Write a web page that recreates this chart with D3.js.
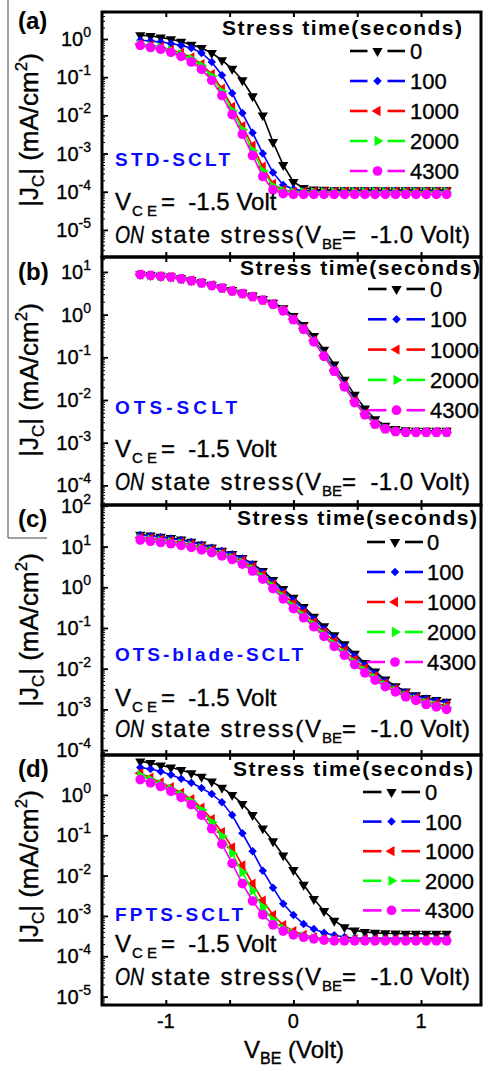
<!DOCTYPE html>
<html>
<head>
<meta charset="utf-8">
<script src="https://cdn.jsdelivr.net/npm/d3@7"></script>
<style>
  body { margin: 0; background: #fff; }
  svg { display: block; font-family: "Liberation Sans", Arial, sans-serif; }
  .heavy { stroke: currentColor; stroke-width: 0.35px; }
</style>
</head>
<body>
<svg id="chart" width="483" height="1066"></svg>
<script>
// V_BE sweep (Volt), same for every panel
const vbe = [-1.2, -1.12, -1.04, -0.96, -0.88, -0.8, -0.72, -0.64, -0.56, -0.48, -0.4, -0.32, -0.24, -0.16, -0.08, 0,
  0.08, 0.16, 0.24, 0.32, 0.4, 0.48, 0.56, 0.64, 0.72, 0.8, 0.88, 0.96, 1.04, 1.12, 1.2];

const stressTimes = ["0", "100", "1000", "2000", "4300"];
const seriesColors = ["#000000", "#0000ff", "#ff0000", "#00ff00", "#ff00ff"];

// (a) STD-SCLT, |Jc| in mA/cm2
const stdJ0 = [1.26, 1.2, 1.1, 0.98, 0.85, 0.71, 0.58, 0.43, 0.28, 0.166, 0.083, 0.0316, 0.01, 2.0e-3, 5.0e-4, 1.8e-4,
  1.26e-4, 1.15e-4, 1.12e-4, 1.1e-4, 1.1e-4, 1.09e-4, 1.1e-4, 1.1e-4, 1.09e-4, 1.1e-4, 1.1e-4, 1.1e-4, 1.09e-4, 1.1e-4, 1.1e-4];
const stdJ100 = [0.93, 0.89, 0.83, 0.76, 0.68, 0.58, 0.43, 0.25, 0.112, 0.038, 0.0115, 3.5e-3, 1.0e-3, 3.2e-4, 1.5e-4, 1.17e-4,
  1.05e-4, 1.05e-4, 1.05e-4, 1.04e-4, 1.05e-4, 1.05e-4, 1.05e-4, 1.04e-4, 1.05e-4, 1.05e-4, 1.05e-4, 1.04e-4, 1.05e-4, 1.05e-4, 1.05e-4];
const stdJ1000 = [0.74, 0.68, 0.62, 0.52, 0.43, 0.33, 0.22, 0.12, 0.05, 0.0166, 5.2e-3, 1.6e-3, 4.5e-4, 1.6e-4, 1.12e-4,
  1.0e-4, 1.0e-4, 1.0e-4, 1.0e-4, 1.0e-4, 1.0e-4, 1.0e-4, 1.0e-4, 1.0e-4, 1.0e-4, 1.0e-4, 1.0e-4, 1.0e-4, 1.0e-4, 1.0e-4, 1.0e-4];
const stdJ2000 = [0.72, 0.66, 0.6, 0.5, 0.4, 0.3, 0.2, 0.105, 0.042, 0.0132, 4.2e-3, 1.2e-3, 3.5e-4, 1.4e-4, 1.05e-4,
  9.7e-5, 9.7e-5, 9.7e-5, 9.7e-5, 9.7e-5, 9.7e-5, 9.7e-5, 9.7e-5, 9.7e-5, 9.7e-5, 9.7e-5, 9.7e-5, 9.7e-5, 9.7e-5, 9.7e-5, 9.7e-5];
const stdJ4300 = [0.68, 0.6, 0.54, 0.45, 0.35, 0.25, 0.16, 0.083, 0.033, 0.0105, 3.2e-3, 8.9e-4, 2.5e-4, 1.12e-4, 8.9e-5,
  8.5e-5, 8.5e-5, 8.5e-5, 8.5e-5, 8.5e-5, 8.5e-5, 8.5e-5, 8.5e-5, 8.5e-5, 8.5e-5, 8.5e-5, 8.5e-5, 8.5e-5, 8.5e-5, 8.5e-5, 8.5e-5];

// (b) OTS-SCLT
const otsJ0 = [8.9, 8.5, 8.1, 7.8, 7.1, 6.5, 5.75, 5.0, 4.37, 3.8, 3.24, 2.82, 2.34, 1.91, 1.41, 0.93, 0.575, 0.316, 0.151, 0.068,
  0.030, 0.0132, 6.3e-3, 3.55e-3, 2.5e-3, 2.1e-3, 1.95e-3, 1.9e-3, 1.9e-3, 1.9e-3, 1.9e-3];
const otsJ100 = [8.9, 8.5, 8.1, 7.6, 7.1, 6.3, 5.6, 4.9, 4.27, 3.63, 3.16, 2.69, 2.24, 1.82, 1.32, 0.83, 0.5, 0.263, 0.12, 0.054,
  0.024, 0.0102, 5.0e-3, 2.95e-3, 2.19e-3, 1.9e-3, 1.82e-3, 1.82e-3, 1.82e-3, 1.82e-3, 1.82e-3];
const otsJ1000 = [8.7, 8.3, 7.9, 7.6, 6.9, 6.3, 5.6, 4.9, 4.17, 3.63, 3.1, 2.63, 2.19, 1.78, 1.29, 0.79, 0.48, 0.25, 0.112, 0.05,
  0.0224, 9.5e-3, 4.8e-3, 2.8e-3, 2.14e-3, 1.86e-3, 1.78e-3, 1.78e-3, 1.78e-3, 1.78e-3, 1.78e-3];
const otsJ2000 = [8.7, 8.3, 7.9, 7.6, 6.9, 6.2, 5.5, 4.8, 4.17, 3.55, 3.1, 2.63, 2.19, 1.74, 1.26, 0.78, 0.46, 0.24, 0.11, 0.049,
  0.0214, 9.1e-3, 4.6e-3, 2.75e-3, 2.1e-3, 1.82e-3, 1.74e-3, 1.74e-3, 1.74e-3, 1.74e-3, 1.74e-3];
const otsJ4300 = [8.7, 8.3, 7.9, 7.6, 6.9, 6.2, 5.5, 4.8, 4.2, 3.55, 3.1, 2.63, 2.19, 1.74, 1.23, 0.76, 0.45, 0.23, 0.105, 0.047,
  0.0204, 8.7e-3, 4.5e-3, 2.7e-3, 2.1e-3, 1.82e-3, 1.74e-3, 1.74e-3, 1.74e-3, 1.74e-3, 1.74e-3];

// (c) OTS-blade-SCLT
const bladeJ0 = [19.5, 18.6, 17.4, 16.2, 14.8, 13.2, 11.2, 9.5, 7.9, 6.6, 5.25, 3.8, 2.51, 1.51, 0.91, 0.55, 0.33, 0.19, 0.11, 0.066,
  0.04, 0.0234, 0.0138, 8.5e-3, 5.4e-3, 3.7e-3, 2.75e-3, 2.24e-3, 1.9e-3, 1.7e-3, 1.55e-3];
const bladeJ100 = [19.1, 18.2, 17.0, 15.8, 14.5, 12.9, 11.0, 9.3, 7.8, 6.5, 5.1, 3.63, 2.29, 1.35, 0.79, 0.48, 0.29, 0.166, 0.095, 0.0575,
  0.0347, 0.0204, 0.012, 7.6e-3, 4.9e-3, 3.47e-3, 2.63e-3, 2.14e-3, 1.82e-3, 1.62e-3, 1.48e-3];
const bladeJ1000 = [16.6, 15.8, 14.8, 13.8, 12.6, 11.2, 9.8, 8.3, 6.9, 5.6, 4.47, 3.16, 2.0, 1.17, 0.68, 0.4, 0.234, 0.138, 0.079, 0.047,
  0.028, 0.0166, 0.0102, 6.6e-3, 4.37e-3, 3.16e-3, 2.4e-3, 1.9e-3, 1.58e-3, 1.38e-3, 1.26e-3];
const bladeJ2000 = [15.5, 14.8, 13.8, 12.9, 11.7, 10.5, 9.1, 7.8, 6.5, 5.25, 4.07, 2.82, 1.78, 1.05, 0.59, 0.34, 0.2, 0.12, 0.069, 0.04,
  0.024, 0.0141, 8.9e-3, 5.9e-3, 4.0e-3, 2.9e-3, 2.19e-3, 1.78e-3, 1.45e-3, 1.26e-3, 1.12e-3];
const bladeJ4300 = [14.5, 13.5, 12.6, 11.7, 10.7, 9.5, 8.3, 7.1, 5.9, 4.8, 3.7, 2.51, 1.58, 0.93, 0.52, 0.3, 0.178, 0.107, 0.062, 0.0355,
  0.0214, 0.0126, 7.9e-3, 5.25e-3, 3.63e-3, 2.69e-3, 2.04e-3, 1.66e-3, 1.32e-3, 1.15e-3, 1.0e-3];

// (d) FPTS-SCLT
const fptsJ0 = [6.8, 6.2, 5.4, 4.8, 4.17, 3.47, 2.82, 2.14, 1.51, 1.0, 0.6, 0.316, 0.148, 0.071, 0.0316, 0.0138, 5.9e-3, 2.63e-3, 1.32e-3, 7.6e-4,
  5.25e-4, 4.37e-4, 4.0e-4, 3.8e-4, 3.7e-4, 3.65e-4, 3.6e-4, 3.6e-4, 3.6e-4, 3.6e-4, 3.6e-4];
const fptsJ100 = [4.8, 4.37, 3.8, 3.16, 2.51, 2.0, 1.48, 1.05, 0.66, 0.316, 0.112, 0.04, 0.0132, 5.0e-3, 2.0e-3, 1.05e-3, 6.3e-4, 4.7e-4, 3.8e-4, 3.3e-4,
  3.0e-4, 2.8e-4, 2.8e-4, 2.8e-4, 2.8e-4, 2.8e-4, 2.8e-4, 2.8e-4, 2.8e-4, 2.8e-4, 2.8e-4];
const fptsJ1000 = [3.47, 2.69, 2.04, 1.55, 1.12, 0.78, 0.48, 0.25, 0.12, 0.05, 0.0178, 6.3e-3, 2.4e-3, 1.05e-3, 5.9e-4, 4.2e-4, 3.4e-4, 2.95e-4, 2.7e-4,
  2.63e-4, 2.63e-4, 2.63e-4, 2.63e-4, 2.63e-4, 2.63e-4, 2.63e-4, 2.63e-4, 2.63e-4, 2.63e-4, 2.63e-4, 2.63e-4];
const fptsJ2000 = [3.02, 2.4, 1.86, 1.41, 1.02, 0.69, 0.42, 0.21, 0.095, 0.0355, 0.012, 4.2e-3, 1.66e-3, 7.9e-4, 4.8e-4, 3.63e-4, 3.1e-4, 2.8e-4, 2.63e-4,
  2.5e-4, 2.5e-4, 2.5e-4, 2.5e-4, 2.5e-4, 2.5e-4, 2.5e-4, 2.5e-4, 2.5e-4, 2.5e-4, 2.5e-4, 2.5e-4];
const fptsJ4300 = [2.4, 2.0, 1.62, 1.23, 0.87, 0.575, 0.316, 0.145, 0.06, 0.02, 6.3e-3, 2.34e-3, 1.07e-3, 6.0e-4, 4.2e-4, 3.4e-4, 2.95e-4, 2.7e-4, 2.5e-4,
  2.4e-4, 2.4e-4, 2.4e-4, 2.4e-4, 2.4e-4, 2.4e-4, 2.4e-4, 2.4e-4, 2.4e-4, 2.4e-4, 2.4e-4, 2.4e-4];

const deviceNames = ["STD-SCLT", "OTS-SCLT", "OTS-blade-SCLT", "FPTS-SCLT"];
const panelLetters = ["(a)", "(b)", "(c)", "(d)"];
// exponents of the labelled decades on each y axis
const yTickExpA = [0, -1, -2, -3, -4, -5];
const yTickExpB = [1, 0, -1, -2, -3, -4];
const yTickExpC = [2, 1, 0, -1, -2, -3, -4];
const yTickExpD = [0, -1, -2, -3, -4, -5];
const xTickValues = [-1, -0.5, 0, 0.5, 1];
const xTickLabels = [-1, 0, 1];

// ---- layout ----
const svg = d3.select("#chart");
const x = d3.scaleLinear().domain([-1.5, 1.47]).range([102, 481]);
const plotLeft = x.range()[0], plotRight = x.range()[1];

const panels = [
  { series: [stdJ0, stdJ100, stdJ1000, stdJ2000, stdJ4300], tickExp: yTickExpA,
    top: 12, bottom: 257, logMin: -5.71, logMax: 0.707, letterY: 29, titleY: 130,
    legendTitleY: 35, legendEnd: 462, entryY: 51, entryStep: 30, legendX: [350, 405], labelX: 410,
    nameY: 166, nameWidth: 115, vceY: 210, onY: 243 },
  { series: [otsJ0, otsJ100, otsJ1000, otsJ2000, otsJ4300], tickExp: yTickExpB,
    top: 257, bottom: 505, logMin: -4.46, logMax: 1.35, letterY: 280, titleY: 380,
    legendTitleY: 275, legendEnd: 480, entryY: 289, entryStep: 30.3, legendX: [368, 425], labelX: 430,
    nameY: 414, nameWidth: 122, vceY: 457, onY: 490 },
  { series: [bladeJ0, bladeJ100, bladeJ1000, bladeJ2000, bladeJ4300], tickExp: yTickExpC,
    top: 505, bottom: 755, logMin: -4.12, logMax: 2.02, letterY: 527, titleY: 630,
    legendTitleY: 525, legendEnd: 477, entryY: 542, entryStep: 30, legendX: [367, 423], labelX: 427,
    nameY: 661, nameWidth: 188, vceY: 706, onY: 737 },
  { series: [fptsJ0, fptsJ100, fptsJ1000, fptsJ2000, fptsJ4300], tickExp: yTickExpD,
    top: 755, bottom: 1005, logMin: -5.21, logMax: 0.99, letterY: 777, titleY: 867,
    legendTitleY: 776, legendEnd: 473, entryY: 792, entryStep: 29.6, legendX: [363, 420], labelX: 425,
    nameY: 921, nameWidth: 128, vceY: 952, onY: 985 }
];

const markers = [
  { type: d3.symbolTriangle, size: 46, rotate: 180 },
  { type: d3.symbolSquare, size: 36, rotate: 45 },
  { type: d3.symbolTriangle, size: 46, rotate: -90 },
  { type: d3.symbolTriangle, size: 46, rotate: 90 },
  { type: d3.symbolCircle, size: 74, rotate: 0 }
];
const markerPath = k => d3.symbol().type(markers[k].type).size(markers[k].size)();

// thin crop line at the far left of the original figure
svg.append("path").attr("d", "M8,0V538H47").attr("fill", "none").attr("stroke", "#444").attr("stroke-width", 1);

panels.forEach((p, pi) => {
  const y = d3.scaleLog().domain([10 ** p.logMin, 10 ** p.logMax]).range([p.bottom, p.top]);
  const g = svg.append("g").attr("class", "panel");

  svg.append("clipPath").attr("id", "clip" + pi).append("rect")
    .attr("x", plotLeft).attr("y", p.top).attr("width", plotRight - plotLeft).attr("height", p.bottom - p.top);

  // y ticks, major decades and minor 2..9
  let majors = [], minors = [];
  for (let e = Math.floor(p.logMin); e <= Math.ceil(p.logMax); e++) {
    for (let m = 1; m <= 9; m++) {
      const v = m * 10 ** e;
      if (v < 10 ** p.logMin || v > 10 ** p.logMax) continue;
      (m === 1 ? majors : minors).push(v);
    }
  }
  g.append("g").attr("transform", `translate(${plotLeft},0)`)
    .call(d3.axisLeft(y).tickValues(minors).tickSize(-3).tickFormat(""))
    .call(s => s.select(".domain").remove())
    .selectAll("line").attr("stroke-width", 1);
  g.append("g").attr("transform", `translate(${plotLeft},0)`)
    .call(d3.axisLeft(y).tickValues(majors).tickSize(-6).tickFormat(""))
    .call(s => s.select(".domain").remove())
    .selectAll("line").attr("stroke-width", 1.8);

  // x ticks on top and bottom edges, pointing in
  g.append("g").attr("transform", `translate(0,${p.top})`)
    .call(d3.axisBottom(x).tickValues(xTickValues).tickSize(5).tickFormat(""))
    .call(s => s.select(".domain").remove())
    .selectAll("line").attr("stroke-width", 2);
  g.append("g").attr("transform", `translate(0,${p.bottom})`)
    .call(d3.axisTop(x).tickValues(xTickValues).tickSize(5).tickFormat(""))
    .call(s => s.select(".domain").remove())
    .selectAll("line").attr("stroke-width", 2);

  // y tick labels 10^n
  g.selectAll("text.ylab").data(p.tickExp).join("text")
    .attr("class", "ylab heavy")
    .attr("x", 91).attr("y", e => y(10 ** e) + 7)
    .attr("text-anchor", "end").attr("font-size", 20)
    .each(function (e) {
      const t = d3.select(this);
      t.append("tspan").text("10");
      t.append("tspan").attr("dy", -9).attr("font-size", 14).text(String(e));
    });

  // data
  const plot = g.append("g").attr("clip-path", `url(#clip${pi})`);
  p.series.forEach((vals, k) => {
    const pts = vals.map((v, i) => [x(vbe[i]), y(v)]);
    plot.append("path").attr("d", d3.line()(pts))
      .attr("fill", "none").attr("stroke", seriesColors[k]).attr("stroke-width", 1.6);
    plot.selectAll(null).data(pts).join("path")
      .attr("transform", d => `translate(${d[0]},${d[1]}) rotate(${markers[k].rotate})`)
      .attr("d", markerPath(k))
      .attr("fill", seriesColors[k]);
  });

  // legend
  const lg = g.append("g");
  lg.append("text").attr("x", p.legendEnd).attr("y", p.legendTitleY)
    .attr("text-anchor", "end").attr("font-size", 21).attr("font-weight", "bold")
    .attr("textLength", 240).attr("lengthAdjust", "spacing")
    .text("Stress time(seconds)");
  stressTimes.forEach((label, k) => {
    const cy = p.entryY + k * p.entryStep;
    const mid = (p.legendX[0] + p.legendX[1]) / 2;
    lg.append("line").attr("x1", p.legendX[0]).attr("x2", mid - 10).attr("y1", cy).attr("y2", cy)
      .attr("stroke", seriesColors[k]).attr("stroke-width", 2.6);
    lg.append("line").attr("x1", mid + 10).attr("x2", p.legendX[1]).attr("y1", cy).attr("y2", cy)
      .attr("stroke", seriesColors[k]).attr("stroke-width", 2.6);
    lg.append("path").attr("transform", `translate(${mid},${cy}) rotate(${markers[k].rotate})`)
      .attr("d", markerPath(k)).attr("fill", seriesColors[k]);
    lg.append("text").attr("class", "heavy").attr("x", p.labelX).attr("y", cy + 8)
      .attr("font-size", 22).text(label);
  });

  // device name and bias conditions
  g.append("text").attr("x", 115).attr("y", p.nameY)
    .attr("font-size", 19).attr("font-weight", "bold").attr("fill", "#0a0aff")
    .attr("textLength", p.nameWidth).attr("lengthAdjust", "spacing")
    .text(deviceNames[pi]);

  g.append("text").attr("class", "heavy").attr("x", 115).attr("y", p.vceY).attr("font-size", 24).text("V");
  g.append("text").attr("class", "heavy").attr("x", 132).attr("y", p.vceY + 6).attr("font-size", 15).text("C E");
  g.append("text").attr("class", "heavy").attr("x", 161).attr("y", p.vceY).attr("font-size", 24).text("=\u00a0\u00a0-1.5 Volt");

  g.append("text").attr("class", "heavy").attr("x", 115).attr("y", p.onY).attr("font-size", 23).attr("font-style", "italic")
    .attr("textLength", 29).attr("lengthAdjust", "spacingAndGlyphs").text("ON");
  g.append("text").attr("class", "heavy").attr("x", 151).attr("y", p.onY).attr("font-size", 24)
    .attr("textLength", 170).attr("lengthAdjust", "spacing").text("state stress(V");
  g.append("text").attr("class", "heavy").attr("x", 322).attr("y", p.onY + 6).attr("font-size", 15).text("BE");
  g.append("text").attr("class", "heavy").attr("x", 342).attr("y", p.onY).attr("font-size", 24)
    .attr("textLength", 128).attr("lengthAdjust", "spacing").text("=\u00a0\u00a0-1.0 Volt)");

  // panel letter
  svg.append("text").attr("x", 18).attr("y", p.letterY)
    .attr("font-size", 24).attr("font-weight", "bold").text(panelLetters[pi]);

  // y title
  const yt = svg.append("text").attr("class", "heavy").attr("transform", `translate(38,${p.titleY}) rotate(-90)`)
    .attr("text-anchor", "middle").attr("font-size", 26);
  yt.append("tspan").text("|J");
  yt.append("tspan").attr("font-size", 17).attr("dy", 6).text("C");
  yt.append("tspan").attr("dy", -6).text("| (mA/cm");
  yt.append("tspan").attr("font-size", 17).attr("dy", -11).text("2");
  yt.append("tspan").attr("dy", 11).text(")");

  // frame
  g.append("rect").attr("x", plotLeft).attr("y", p.top)
    .attr("width", plotRight - plotLeft).attr("height", p.bottom - p.top)
    .attr("fill", "none").attr("stroke", "#000").attr("stroke-width", 3);
});

// shared x axis labels under the last panel
const last = panels[panels.length - 1];
svg.append("g").selectAll("text").data(xTickLabels).join("text")
  .attr("class", "heavy")
  .attr("x", d => x(d)).attr("y", last.bottom + 23)
  .attr("text-anchor", "middle").attr("font-size", 20)
  .text(d => String(d));

const xt = svg.append("text").attr("class", "heavy").attr("x", 244).attr("y", 1058).attr("font-size", 24);
xt.append("tspan").text("V");
xt.append("tspan").attr("font-size", 16).attr("dy", 6).text("BE");
xt.append("tspan").attr("dy", -6).text("\u00a0(Volt)");
</script>
</body>
</html>
